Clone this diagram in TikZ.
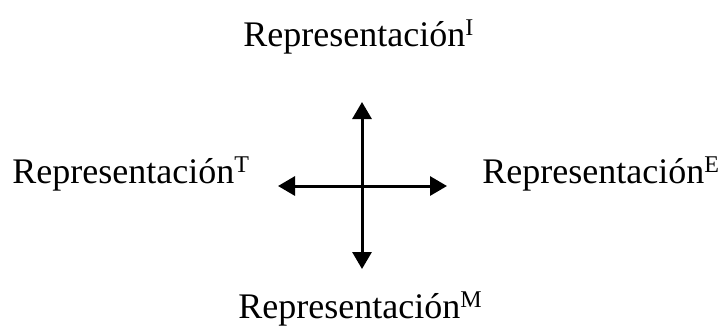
\documentclass[tikz,border=0pt]{standalone}
\usepackage{fontspec}
\setmainfont{Liberation Serif}
\usetikzlibrary{arrows.meta}
% raised capital index after a word
\newcommand{\repidx}[1]{\raisebox{5.2pt}{\fontsize{12}{12}\selectfont #1}}
\begin{document}
\begin{tikzpicture}[x=0.5pt,y=-0.5pt,
  label/.style={anchor=base west,inner sep=0pt,font=\fontsize{18}{22}\selectfont},
  axis/.style={line width=1.5pt,-{Triangle[length=8.5pt,width=9.5pt]}}]
  \useasboundingbox (0,0) rectangle (727,329);
  % the four kinds of representation
  \node[label] (rI) at (243,46) {Representación\repidx{I}};
  \node[label] (rT) at (12,183) {Representación\repidx{T}};
  \node[label] (rE) at (482,183) {Representación\repidx{E}};
  \node[label] (rM) at (238,318) {Representación\repidx{M}};
  % cross of arrows between them
  \coordinate (c) at (362,186);
  \coordinate (up) at (362,102);
  \coordinate (down) at (362,269);
  \coordinate (left) at (278,186);
  \coordinate (right) at (447,186);
  \draw[axis] (c) -- (up);
  \draw[axis] (c) -- (down);
  \draw[axis] (c) -- (left);
  \draw[axis] (c) -- (right);
\end{tikzpicture}
\end{document}
